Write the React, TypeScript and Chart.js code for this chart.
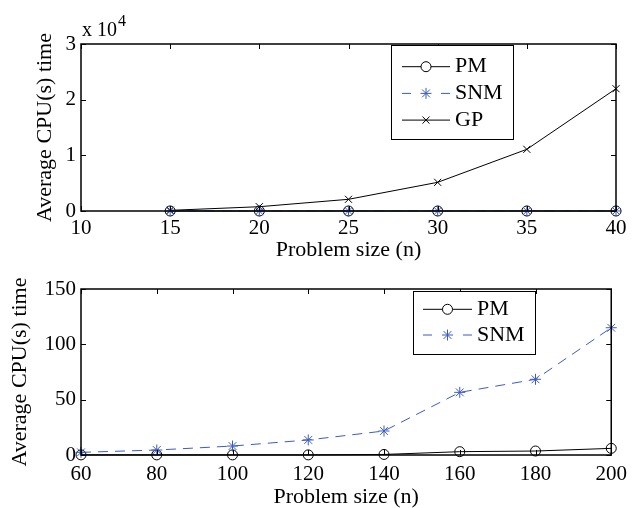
import React, { useEffect, useRef } from 'react';
import { Chart, registerables } from 'chart.js';
import { drawPoint } from 'chart.js/helpers';

Chart.register(...registerables);

// ---------- data ----------
const topSizes = [15, 20, 25, 30, 35, 40];
const topPM = [0.02, 0.04, 0.07, 0.1, 0.15, 0.2];
const topSNM = [0.1, 0.2, 0.4, 0.6, 0.9, 1.3];
const topGP = [120, 770, 2100, 5150, 11080, 21970];
const topXTicks = [10, 15, 20, 25, 30, 35, 40];
const topYTicks = [0, 10000, 20000, 30000];
const topYTickLabels = ['0', '1', '2', '3'];

const bottomSizes = [60, 80, 100, 120, 140, 160, 180, 200];
const bottomPM = [0.1, 0.1, 0.1, 0.1, 0.5, 3.0, 3.6, 6.0];
const bottomSNM = [2.4, 4.5, 8.1, 13.6, 21.7, 56.6, 68.4, 115.0];
const bottomXTicks = [60, 80, 100, 120, 140, 160, 180, 200];
const bottomYTicks = [0, 50, 100, 150];

const seriesNames = ['PM', 'SNM', 'GP'];
const xTitle = 'Problem size (n)';
const yTitle = 'Average CPU(s) time';

// ---------- styles ----------
const FONT = '"Liberation Serif", "Times New Roman", serif';
const BLUE = '#3b5bc4';

const boxPlugin = {
  id: 'matlabBox',
  afterDatasetsDraw(chart: any) {
    const { ctx, chartArea: a, scales } = chart;
    const L = 5;
    ctx.save();
    ctx.strokeStyle = '#000';
    ctx.lineWidth = 1;
    ctx.beginPath();
    scales.x.ticks.forEach((t: any) => {
      const px = Math.round(scales.x.getPixelForValue(t.value)) + 0.5;
      ctx.moveTo(px, a.bottom);
      ctx.lineTo(px, a.bottom - L);
      ctx.moveTo(px, a.top);
      ctx.lineTo(px, a.top + L);
    });
    scales.y.ticks.forEach((t: any) => {
      const py = Math.round(scales.y.getPixelForValue(t.value)) + 0.5;
      ctx.moveTo(a.left, py);
      ctx.lineTo(a.left + L, py);
      ctx.moveTo(a.right, py);
      ctx.lineTo(a.right - L, py);
    });
    ctx.stroke();
    ctx.lineWidth = 1.5;
    ctx.strokeRect(a.left, a.top, a.right - a.left, a.bottom - a.top);
    ctx.restore();
  },
};

function makeLegend(cfg: {
  left: number; top: number; width: number; height: number;
  firstRow: number; rowGap: number; lineStart: number; lineEnd: number; textX: number;
}) {
  return {
    id: 'boxLegend',
    afterDraw(chart: any) {
      const ctx = chart.ctx;
      ctx.save();
      ctx.fillStyle = '#fff';
      ctx.fillRect(cfg.left, cfg.top, cfg.width, cfg.height);
      ctx.strokeStyle = '#000';
      ctx.lineWidth = 1;
      ctx.strokeRect(cfg.left + 0.5, cfg.top + 0.5, cfg.width, cfg.height);
      chart.data.datasets.forEach((ds: any, i: number) => {
        const y = cfg.top + cfg.firstRow + i * cfg.rowGap;
        const x0 = cfg.left + cfg.lineStart;
        const x1 = cfg.left + cfg.lineEnd;
        ctx.strokeStyle = ds.borderColor;
        ctx.lineWidth = ds.borderWidth;
        ctx.setLineDash(ds.borderDash && ds.borderDash.length ? [9, x1 - x0 - 18] : []);
        ctx.beginPath();
        ctx.moveTo(x0, y);
        ctx.lineTo(x1, y);
        ctx.stroke();
        ctx.setLineDash([]);
        ctx.strokeStyle = ds.pointBorderColor;
        ctx.fillStyle = '#fff';
        ctx.lineWidth = 1;
        drawPoint(ctx, { pointStyle: ds.pointStyle, radius: ds.pointRadius, rotation: 0, borderWidth: 1 } as any, (x0 + x1) / 2, y);
        ctx.fillStyle = '#000';
        ctx.font = `22px ${FONT}`;
        ctx.textBaseline = 'middle';
        ctx.textAlign = 'left';
        ctx.fillText(ds.label, cfg.left + cfg.textX, y);
      });
      ctx.restore();
    },
  };
}

const exponentPlugin = {
  id: 'exponentLabel',
  afterDraw(chart: any) {
    const ctx = chart.ctx;
    const a = chart.chartArea;
    ctx.save();
    ctx.fillStyle = '#000';
    ctx.textBaseline = 'alphabetic';
    ctx.textAlign = 'left';
    ctx.font = `20px ${FONT}`;
    const base = 'x 10';
    ctx.fillText(base, a.left + 1, 36);
    const w = ctx.measureText(base).width;
    ctx.font = `16px ${FONT}`;
    ctx.fillText('4', a.left + 1 + w + 1, 26);
    ctx.restore();
  },
};

function lineDataset(label: string, xs: number[], ys: number[], kind: string) {
  const base: any = {
    label,
    data: xs.map((x, i) => ({ x, y: ys[i] })),
    borderWidth: 1,
    tension: 0,
    clip: false,
    pointBorderWidth: 1,
    pointBackgroundColor: 'rgba(0,0,0,0)',
  };
  if (kind === 'PM') {
    return { ...base, borderColor: '#000', pointBorderColor: '#000', pointStyle: 'circle', pointRadius: 5, order: 1 };
  }
  if (kind === 'SNM') {
    return { ...base, borderColor: BLUE, pointBorderColor: BLUE, pointStyle: 'star', pointRadius: 5.5, borderDash: [10, 7], order: 0 };
  }
  return { ...base, borderColor: '#000', pointBorderColor: '#000', pointStyle: 'crossRot', pointRadius: 5, order: 2 };
}

function scalesFor(opts: {
  xMin: number; xMax: number; xTicks: number[]; yMin: number; yMax: number; yTicks: number[];
  yLabels?: string[]; axisHeight: number; xTickPad: number; xTitlePad: number; yTitlePad: number;
}) {
  return {
    x: {
      type: 'linear',
      min: opts.xMin,
      max: opts.xMax,
      grid: { display: false, drawTicks: false },
      border: { display: false },
      afterBuildTicks: (axis: any) => { axis.ticks = opts.xTicks.map((v) => ({ value: v })); },
      afterFit: (axis: any) => { axis.height = opts.axisHeight; },
      ticks: {
        color: '#000',
        padding: opts.xTickPad,
        maxRotation: 0,
        autoSkip: false,
        font: { family: FONT, size: 21 },
        callback: (v: any) => String(v),
      },
      title: {
        display: true,
        text: xTitle,
        color: '#000',
        font: { family: FONT, size: 22, lineHeight: 1 },
        padding: { top: 0, bottom: opts.xTitlePad },
      },
    },
    y: {
      type: 'linear',
      min: opts.yMin,
      max: opts.yMax,
      grid: { display: false, drawTicks: false },
      border: { display: false },
      afterBuildTicks: (axis: any) => { axis.ticks = opts.yTicks.map((v) => ({ value: v })); },
      afterFit: (axis: any) => { axis.width = 81; },
      ticks: {
        color: '#000',
        padding: 5,
        autoSkip: false,
        font: { family: FONT, size: 21 },
        callback: (v: any) => {
          const idx = opts.yTicks.indexOf(v);
          return opts.yLabels && idx >= 0 ? opts.yLabels[idx] : String(v);
        },
      },
      title: {
        display: true,
        text: yTitle,
        color: '#000',
        font: { family: FONT, size: 22, lineHeight: 1 },
        padding: { top: opts.yTitlePad, bottom: 0 },
      },
    },
  };
}

export default function App() {
  const topRef = useRef<HTMLCanvasElement | null>(null);
  const bottomRef = useRef<HTMLCanvasElement | null>(null);

  useEffect(() => {
    let top: Chart | null = null;
    let bottom: Chart | null = null;
    let cancelled = false;

    const build = () => {
      if (cancelled) return;
      top = new Chart(topRef.current as HTMLCanvasElement, {
        type: 'line',
        data: {
          datasets: [
            lineDataset(seriesNames[0], topSizes, topPM, 'PM'),
            lineDataset(seriesNames[1], topSizes, topSNM, 'SNM'),
            lineDataset(seriesNames[2], topSizes, topGP, 'GP'),
          ],
        },
        options: {
          responsive: false,
          animation: false,
          devicePixelRatio: 1,
          layout: { padding: { top: 44, right: 18, left: 0, bottom: 0 } },
          plugins: { legend: { display: false }, tooltip: { enabled: false } },
          scales: scalesFor({
            xMin: 10, xMax: 40, xTicks: topXTicks, yMin: 0, yMax: 30000, yTicks: topYTicks,
            yLabels: topYTickLabels, axisHeight: 57, xTickPad: 5, xTitlePad: 7, yTitlePad: 34,
          }) as any,
        },
        plugins: [
          boxPlugin,
          exponentPlugin,
          makeLegend({ left: 391, top: 45, width: 122, height: 94, firstRow: 21.7, rowGap: 26.7, lineStart: 11, lineEnd: 59, textX: 64 }),
        ],
      } as any);

      bottom = new Chart(bottomRef.current as HTMLCanvasElement, {
        type: 'line',
        data: {
          datasets: [
            lineDataset(seriesNames[0], bottomSizes, bottomPM, 'PM'),
            lineDataset(seriesNames[1], bottomSizes, bottomSNM, 'SNM'),
          ],
        },
        options: {
          responsive: false,
          animation: false,
          devicePixelRatio: 1,
          layout: { padding: { top: 21, right: 18, left: 0, bottom: 0 } },
          plugins: { legend: { display: false }, tooltip: { enabled: false } },
          scales: scalesFor({
            xMin: 60, xMax: 200, xTicks: bottomXTicks, yMin: 0, yMax: 150, yTicks: bottomYTicks,
            axisHeight: 53, xTickPad: 7, xTitlePad: 0, yTitlePad: 9,
          }) as any,
        },
        plugins: [
          boxPlugin,
          makeLegend({ left: 413, top: 23, width: 122, height: 63, firstRow: 18.3, rowGap: 25.7, lineStart: 10, lineEnd: 59, textX: 64 }),
        ],
      } as any);
    };

    const fonts = (document as any).fonts;
    if (fonts && fonts.load) {
      Promise.all([
        fonts.load('21px "Liberation Serif"'),
        fonts.load('22px "Liberation Serif"'),
      ]).then(build, build);
    } else {
      build();
    }

    return () => {
      cancelled = true;
      if (top) top.destroy();
      if (bottom) bottom.destroy();
    };
  }, []);

  return (
    <div style={{ position: 'fixed', left: 0, top: 0, width: 634, height: 508, background: '#fff' }}>
      <canvas ref={topRef} width={634} height={268} style={{ display: 'block', width: 634, height: 268 }} />
      <canvas ref={bottomRef} width={634} height={240} style={{ display: 'block', width: 634, height: 240 }} />
    </div>
  );
}
